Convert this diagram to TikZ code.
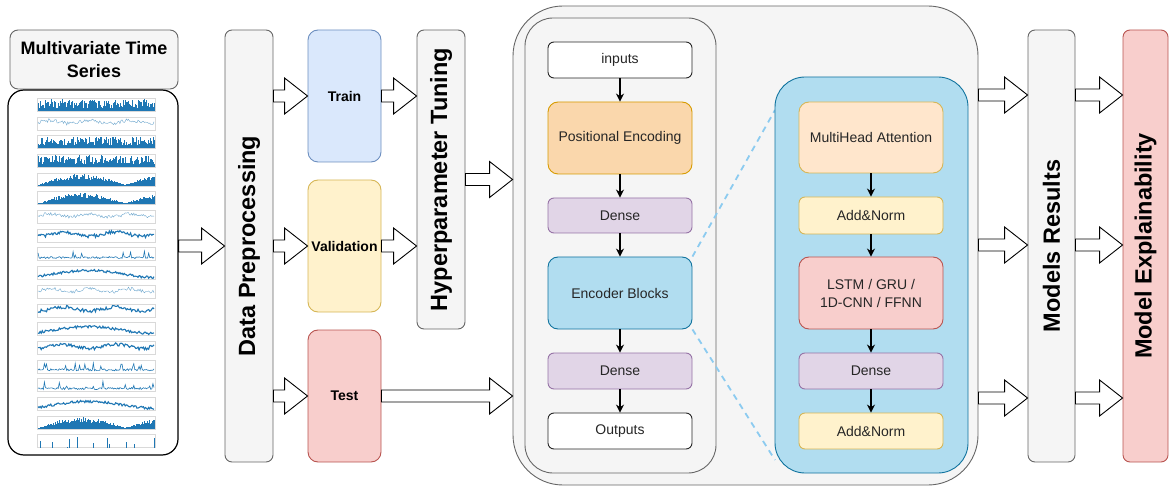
\documentclass[tikz,border=0pt]{standalone}
\usepackage{fontspec}
\setmainfont{Liberation Sans}
\usetikzlibrary{arrows.meta,calc}
\definecolor{grayF}{HTML}{F5F5F5}
\definecolor{grayS}{HTML}{666666}
\definecolor{blueF}{HTML}{DAE8FC}
\definecolor{blueS}{HTML}{6C8EBF}
\definecolor{yelF}{HTML}{FFF2CC}
\definecolor{yelS}{HTML}{D6B656}
\definecolor{redF}{HTML}{F8CECC}
\definecolor{redS}{HTML}{B85450}
\definecolor{orF}{HTML}{FAD7AC}
\definecolor{orS}{HTML}{D79B00}
\definecolor{lorF}{HTML}{FFE6CC}
\definecolor{purF}{HTML}{E1D5E7}
\definecolor{purS}{HTML}{9673A6}
\definecolor{cyF}{HTML}{B1DDF0}
\definecolor{cyS}{HTML}{10739E}
\definecolor{tsblue}{HTML}{1F77B4}
\definecolor{dashblue}{HTML}{8CCBF0}
\tikzset{
  base/.style={line width=0.9pt, inner sep=0pt, align=center},
  graybox/.style={base, draw=grayS, fill=grayF, rounded corners=7pt},
  bigtxt/.style={font=\fontsize{23.5}{26}\selectfont\bfseries, inner sep=0pt},
  midtxt/.style={font=\fontsize{14}{16}\selectfont\bfseries},
  smalltxt/.style={font=\fontsize{14}{18}\selectfont},
  trainbox/.style={base, draw=blueS, fill=blueF, rounded corners=10pt, midtxt},
  valbox/.style={base, draw=yelS, fill=yelF, rounded corners=10pt, midtxt},
  testbox/.style={base, draw=redS, fill=redF, rounded corners=10pt, midtxt},
  layer/.style={base, minimum width=144pt, rounded corners=6pt, smalltxt, text=black!85},
  whitelayer/.style={layer, draw=black!85, fill=white},
  pelayer/.style={layer, draw=orS, fill=orF, rounded corners=10pt},
  denselayer/.style={layer, draw=purS, fill=purF},
  enclayer/.style={layer, draw=cyS, fill=cyF, rounded corners=10pt},
  mhalayer/.style={layer, draw=yelS, fill=lorF, rounded corners=10pt},
  addlayer/.style={layer, draw=yelS, fill=yelF},
  lstmlayer/.style={layer, draw=redS, fill=redF, rounded corners=10pt},
  harrow/.style={draw=black, fill=white, line width=0.9pt, line join=miter},
  flow/.style={-{Stealth[length=8pt,width=8pt]}, line width=1.1pt},
  zoomline/.style={draw=dashblue, dashed, dash pattern=on 6pt off 5pt, line width=1.8pt},
}
\newcommand\hollowarrow[2]{%
  \draw[harrow] let \p1=#1, \p2=#2 in
    (\x1,\y1+6pt) -- (\x2-23pt,\y1+6pt) -- (\x2-23pt,\y1+18pt) -- (\x2,\y1)
    -- (\x2-23pt,\y1-18pt) -- (\x2-23pt,\y1-6pt) -- (\x1,\y1-6pt) -- cycle;}
\begin{document}
\begin{tikzpicture}[x=1pt,y=-1pt]
\useasboundingbox (0,0) rectangle (1169,486);
\pgfmathsetseed{4242}

% ---------- multivariate time series ----------
\node[graybox, minimum width=168pt, minimum height=59pt, rounded corners=8pt,
      font=\fontsize{18}{23}\selectfont\bfseries] (tshead) at (94,59.5)
      {Multivariate Time\\Series};
\node[base, draw=black, fill=white, line width=1.2pt, rounded corners=16pt,
      minimum width=170pt, minimum height=365pt] (ts) at (93,272.5) {};

% small plots
\foreach \t [count=\i from 0] in {b,n,b,b,s,s,n,w,k,h,n,w,h,w,k,k,h,s,p}{
  \pgfmathsetmacro\top{96+\i*18.7}
  \pgfmathsetmacro\bl{\top+15}
  \draw[black!15, line width=0.3pt] (37,\top+2) rectangle (155,\bl);
  \begin{scope}[shift={(0,\bl)}]
    \if\t b
      \draw[tsblue, line width=0.6pt] plot[ycomb, samples=120, domain=38:154] (\x,{-(3+9*rnd)});
    \fi
    \if\t s
      \draw[tsblue, line width=0.6pt] plot[ycomb, samples=120, domain=38:154]
        (\x,{-(1+11*abs(sin(((\x-38)/116)*240))*(0.5+0.5*rnd))});
    \fi
    \if\t n
      \draw[tsblue!65, line width=0.4pt] plot[samples=110, domain=38:154]
        (\x,{-(6+1.5*sin(\x*9)+3.5*rnd)});
    \fi
    \if\t w
      \draw[tsblue, line width=1.1pt] plot[samples=110, domain=38:154]
        (\x,{-(6+2*sin(\x*7)+3.5*rnd)});
    \fi
    \if\t h
      \draw[tsblue, line width=1.1pt] plot[samples=110, domain=38:154]
        (\x,{-(4+3.5*sin(((\x-38)/116)*300-40)+2.5*rnd)});
    \fi
    \if\t k
      \draw[tsblue, line width=0.6pt] plot[samples=110, domain=38:154]
        (\x,{-(2+2*rnd+(rnd>0.85)*7*rnd)});
    \fi
    \if\t p
      \draw[tsblue, line width=0.4pt] plot[ycomb, samples=60, domain=38:154]
        (\x,{-((rnd>0.75)*11*rnd)});
    \fi
  \end{scope}
}

% ---------- left pipeline ----------
\node[graybox, minimum width=48pt, minimum height=432pt,
      label={[bigtxt, rotate=90]center:Data Preprocessing}] (dp) at (249,246) {};
\node[trainbox, minimum width=73pt, minimum height=132pt] (train) at (344.5,96) {Train};
\node[valbox, minimum width=73pt, minimum height=132pt] (val) at (344.5,246) {Validation};
\node[testbox, minimum width=73pt, minimum height=132pt] (test) at (344.5,396) {Test};
\node[graybox, minimum width=48pt, minimum height=299pt,
      label={[bigtxt, rotate=90]center:Hyperparameter Tuning}] (hyper) at (441,179.5) {};

% ---------- model container ----------
\node[base, draw=grayS, fill=grayF, rounded corners=50pt,
      minimum width=465pt, minimum height=479pt] (cont) at (745.5,245.5) {};
\node[base, draw=grayS, fill=grayF, rounded corners=28pt,
      minimum width=191pt, minimum height=455pt] (encpanel) at (620.5,245.5) {};

\node[whitelayer, minimum height=36pt] (inputs) at (620,60) {inputs};
\node[pelayer, minimum height=72pt] (pe) at (620,138) {Positional Encoding};
\node[denselayer, minimum height=35pt] (dense1) at (620,215.5) {Dense};
\node[enclayer, minimum height=72pt] (enc) at (620,293) {Encoder Blocks};
\node[denselayer, minimum height=36pt] (dense2) at (620,371) {Dense};
\node[whitelayer, minimum height=36pt] (outputs) at (620,431) {Outputs};

\draw[flow] (inputs) -- (pe);
\draw[flow] (pe) -- (dense1);
\draw[flow] (dense1) -- (enc);
\draw[flow] (enc) -- (dense2);
\draw[flow] (dense2) -- (outputs);

% zoom lines
\coordinate (zt) at (775,110);
\coordinate (zb) at (775,460);
\draw[zoomline] (enc.north east) -- (zt);
\draw[zoomline] (enc.south east) -- (zb);

% encoder block detail
\node[base, draw=cyS, fill=cyF, rounded corners=30pt,
      minimum width=193pt, minimum height=396pt] (blue) at (871.5,275) {};
\node[mhalayer, minimum height=71pt] (mha) at (871,137.5) {MultiHead Attention};
\node[addlayer, minimum height=37pt] (an1) at (871,215.5) {Add\&Norm};
\node[lstmlayer, minimum height=72pt, font=\fontsize{14}{18}\selectfont] (lstm) at (871,293) {LSTM / GRU /\\1D-CNN / FFNN};
\node[denselayer, minimum height=36pt] (dense3) at (871,371) {Dense};
\node[addlayer, minimum height=36pt] (an2) at (871,431) {Add\&Norm};

\draw[flow] (mha) -- (an1);
\draw[flow] (an1) -- (lstm);
\draw[flow] (lstm) -- (dense3);
\draw[flow] (dense3) -- (an2);

% ---------- results ----------
\node[graybox, minimum width=47pt, minimum height=432pt,
      label={[bigtxt, rotate=90]center:Models Results}] (mr) at (1051.5,246) {};
\node[base, draw=redS, fill=redF, rounded corners=7pt, minimum width=45pt, minimum height=432pt,
      label={[bigtxt, rotate=90]center:Model Explainability}] (me) at (1145.5,246) {};

% ---------- hollow arrows ----------
\hollowarrow{(ts.east |- dp.west)}{(dp.west)}
\hollowarrow{(dp.east |- train.west)}{(train.west)}
\hollowarrow{(dp.east |- val.west)}{(val.west)}
\hollowarrow{(dp.east |- test.west)}{(test.west)}
\hollowarrow{(train.east)}{(hyper.west |- train.east)}
\hollowarrow{(val.east)}{(hyper.west |- val.east)}
\hollowarrow{(hyper.east)}{(cont.west |- hyper.east)}
\hollowarrow{(test.east)}{(cont.west |- test.east)}

\coordinate (r1) at (0,95);
\coordinate (r2) at (0,245);
\coordinate (r3) at (0,398);
\foreach \r in {r1,r2,r3}{
  \hollowarrow{(cont.east |- \r)}{(mr.west |- \r)}
  \hollowarrow{(mr.east |- \r)}{(me.west |- \r)}
}
\end{tikzpicture}
\end{document}
